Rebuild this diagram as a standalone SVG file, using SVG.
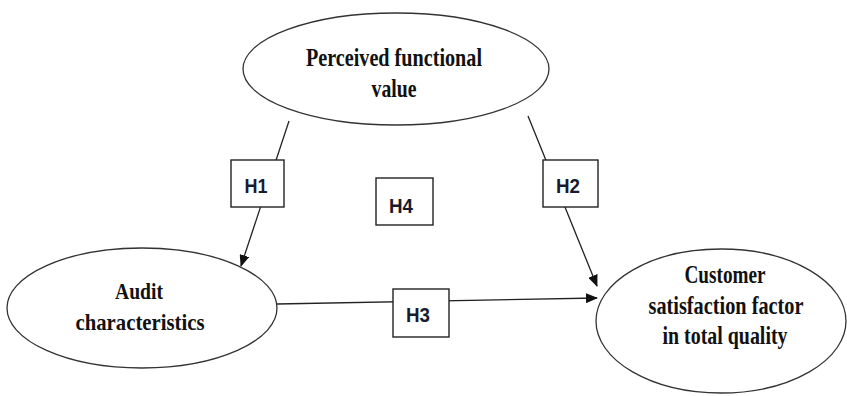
<svg xmlns="http://www.w3.org/2000/svg" width="847" height="396" viewBox="0 0 847 396">
<defs>
<style>
.node{fill:#fff;stroke:#333;stroke-width:1.3}
.box{fill:#fff;stroke:#222;stroke-width:1.4}
.lbl{font-family:"Liberation Serif","Times New Roman",serif;font-weight:bold;fill:#111;text-anchor:middle}
.h{font-family:"Liberation Sans",Arial,sans-serif;font-size:20px;font-weight:bold;fill:#1a1a2e;text-anchor:middle}
.edge{stroke:#222;stroke-width:1.3;fill:none}
</style>
<marker id="arr" markerWidth="12" markerHeight="10" refX="11" refY="5" orient="auto" markerUnits="userSpaceOnUse">
<path d="M0,0 L12,5 L0,10 z" fill="#111"/>
</marker>
</defs>
<rect width="847" height="396" fill="#fff"/>
<g id="connectors">
<line class="edge" x1="289" y1="121" x2="241" y2="266" marker-end="url(#arr)"/>
<line class="edge" x1="528" y1="116" x2="597" y2="286" marker-end="url(#arr)"/>
<line class="edge" x1="277" y1="304" x2="597" y2="298" marker-end="url(#arr)"/>
</g>
<g id="pfv">
<ellipse class="node" cx="396" cy="69" rx="153" ry="56"/>
<text class="lbl" font-size="26" x="394" y="66" textLength="176" lengthAdjust="spacingAndGlyphs">Perceived functional</text>
<text class="lbl" font-size="26" x="394" y="97" textLength="45" lengthAdjust="spacingAndGlyphs">value</text>
</g>
<g id="audit">
<ellipse class="node" cx="142" cy="308" rx="135" ry="60"/>
<text class="lbl" font-size="24" x="139" y="299" textLength="48" lengthAdjust="spacingAndGlyphs">Audit</text>
<text class="lbl" font-size="24" x="140" y="330" textLength="129" lengthAdjust="spacingAndGlyphs">characteristics</text>
</g>
<g id="customer">
<ellipse class="node" cx="721" cy="321" rx="125" ry="72"/>
<text class="lbl" font-size="25" x="725" y="283" textLength="81" lengthAdjust="spacingAndGlyphs">Customer</text>
<text class="lbl" font-size="25" x="726" y="314" textLength="155" lengthAdjust="spacingAndGlyphs">satisfaction factor</text>
<text class="lbl" font-size="25" x="725" y="344" textLength="125" lengthAdjust="spacingAndGlyphs">in total quality</text>
</g>
<g id="h1">
<rect class="box" x="231" y="160" width="53" height="47"/>
<text class="h" x="256" y="193" textLength="23" lengthAdjust="spacingAndGlyphs">H1</text>
</g>
<g id="h2">
<rect class="box" x="543" y="160" width="55" height="47"/>
<text class="h" x="568" y="193" textLength="24" lengthAdjust="spacingAndGlyphs">H2</text>
</g>
<g id="h3">
<rect class="box" x="393" y="289" width="56" height="48"/>
<text class="h" x="418" y="322" textLength="24" lengthAdjust="spacingAndGlyphs">H3</text>
</g>
<g id="h4">
<rect class="box" x="376" y="178" width="57" height="47"/>
<text class="h" x="401" y="213" textLength="24" lengthAdjust="spacingAndGlyphs">H4</text>
</g>
</svg>
